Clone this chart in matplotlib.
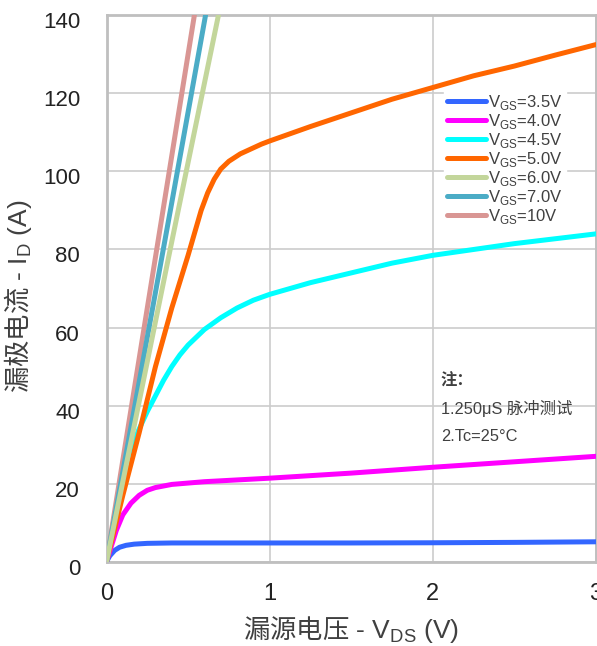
import matplotlib
matplotlib.use('Agg')
import matplotlib.pyplot as plt
import matplotlib.transforms as mtransforms

plt.rcParams['font.family'] = ['Liberation Sans', 'Noto Sans CJK SC', 'DejaVu Sans']
plt.rcParams['mathtext.fontset'] = 'custom'
plt.rcParams['mathtext.rm'] = 'Noto Sans CJK SC'

# output curves, VDS (V) vs ID (A)
vds_35 = [0, 0.02, 0.05, 0.08, 0.12, 0.17, 0.25, 0.4, 0.7, 1.0, 1.5, 2.0, 2.5, 3.0]
id_35 = [0, 1.5, 2.9, 3.7, 4.2, 4.5, 4.7, 4.8, 4.8, 4.8, 4.8, 4.85, 4.95, 5.1]

vds_40 = [0, 0.03, 0.06, 0.1, 0.15, 0.2, 0.25, 0.3, 0.4, 0.6, 1.0, 1.5, 2.0, 2.5, 3.0]
id_40 = [0, 4, 8, 12, 15, 17, 18.3, 19, 19.8, 20.5, 21.4, 22.7, 24.2, 25.6, 27]

vds_45 = [0, 0.05, 0.1, 0.15, 0.2, 0.25, 0.3, 0.35, 0.4, 0.45, 0.5, 0.6, 0.7, 0.8,
          0.9, 1.0, 1.25, 1.5, 1.75, 2.0, 2.5, 3.0]
id_45 = [0, 12, 23, 29, 34, 38.5, 42.5, 46.5, 50, 53, 55.5, 59.5, 62.5, 65,
         67, 68.5, 71.5, 74, 76.5, 78.5, 81.5, 84]

vds_50 = [0, 0.1, 0.2, 0.3, 0.4, 0.5, 0.58, 0.62, 0.66, 0.7, 0.75, 0.82, 0.95, 1.0,
          1.25, 1.5, 1.75, 2.0, 2.25, 2.5, 2.75, 3.0]
id_50 = [0, 17, 33, 50, 65, 78.5, 90, 94.5, 98, 100.6, 102.6, 104.5, 107, 107.8,
         111.5, 115, 118.5, 121.5, 124.5, 127, 129.8, 132.5]

vds_60 = [0, 0.4, 0.75]
id_60 = [0, 82, 153]
vds_70 = [0, 0.4, 0.65]
id_70 = [0, 92, 150]
vds_10 = [0, 0.3, 0.6]
id_10 = [0, 78, 156]

labels = ['3.5V', '4.0V', '4.5V', '5.0V', '6.0V', '7.0V', '10V']
colors = ['#3366ff', '#ff00ff', '#00ffff', '#ff6600', '#c3d69b', '#4bacc6', '#d99694']

series = [(vds_35, id_35), (vds_40, id_40), (vds_45, id_45), (vds_50, id_50),
          (vds_60, id_60), (vds_70, id_70), (vds_10, id_10)]
zorders = [3, 3, 3, 3, 6, 5, 4]

fig = plt.figure(figsize=(5.97, 6.46), dpi=100)
ax = fig.add_axes([0.1784, 0.1305, 0.8199, 0.8458])

for (x, y), lab, c, z in zip(series, labels, colors, zorders):
    ax.plot(x, y, color=c, lw=3.6, solid_capstyle='round', solid_joinstyle='round',
            label='V$_{\\mathregular{GS}}$=' + lab, zorder=z)

ax.set_xlim(0, 3)
ax.set_ylim(0, 140)
ax.set_xticks([0, 1, 2, 3])
ax.set_yticks(range(0, 141, 20))
ax.grid(True, color='#cccccc', lw=1.2)
ax.set_axisbelow(True)
for s in ax.spines.values():
    s.set_color('#bfbfbf')
    s.set_linewidth(2)
ax.tick_params(length=0)
ax.tick_params(axis='x', labelsize=17, pad=15, colors='#222222')
ax.tick_params(axis='y', labelsize=16, pad=19, colors='#222222')
# excel puts the y tick labels a little below their gridlines
shift = mtransforms.ScaledTranslation(0, -5 / 100, fig.dpi_scale_trans)
for lbl in ax.get_yticklabels():
    lbl.set_transform(lbl.get_transform() + shift)

ax.set_xlabel('$\\mathrm{漏源电压}$ - V$_{\\mathregular{DS}}$ (V)', fontsize=19,
              color='#404040', labelpad=7)
ax.set_ylabel('$\\mathrm{漏极电流}$ - I$_{\\mathregular{D}}$ (A)', fontsize=19,
              color='#404040')
ax.yaxis.set_label_coords(-0.148, 0.486)

leg = ax.legend(loc='upper left', bbox_to_anchor=(0.672, 0.88), fontsize=12,
                handlelength=2.35, handletextpad=0.1, labelspacing=0.0,
                borderpad=0.2, frameon=True, fancybox=False, framealpha=1)
leg.get_frame().set_edgecolor('white')
for t in leg.get_texts():
    t.set_color('#404040')

ax.text(0.683, 0.333, '注：', transform=ax.transAxes, fontsize=11.8, color='#404040',
        fontweight='bold', va='center')
ax.text(0.683, 0.281, '1.250μS 脉冲测试', transform=ax.transAxes, fontsize=11.8,
        color='#404040', va='center')
ax.text(0.683, 0.229, '2.Tc=25°C', transform=ax.transAxes, fontsize=11.8,
        color='#404040', va='center')

fig.savefig('out.png', dpi=100)
